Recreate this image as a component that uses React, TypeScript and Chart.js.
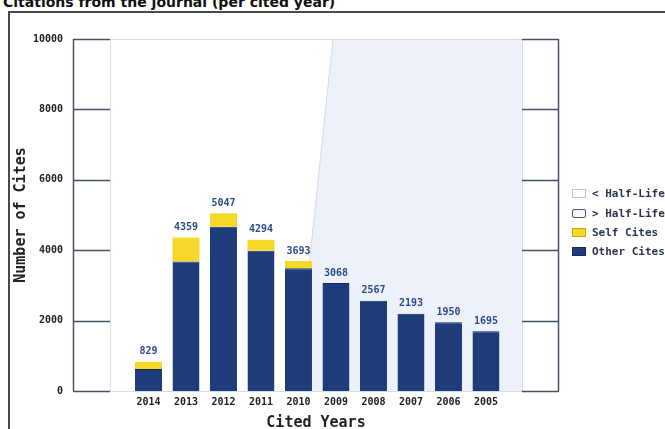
import React, { useEffect, useRef } from "react";
import { Chart, registerables } from "chart.js";

Chart.register(...registerables);

const years = ["2014", "2013", "2012", "2011", "2010", "2009", "2008", "2007", "2006", "2005"];
const otherCites = [625, 3680, 4668, 3986, 3486, 3068, 2567, 2193, 1950, 1695];
const selfCites = [204, 679, 379, 308, 207, 0, 0, 0, 0, 0];
const totalCites = [829, 4359, 5047, 4294, 3693, 3068, 2567, 2193, 1950, 1695];
const yTicks = [0, 2000, 4000, 6000, 8000, 10000];
const legendLabels = ["< Half-Life", "> Half-Life", "Self Cites", "Other Cites"];
// half-life boundary in category units (bottom edge, top edge)
const halfLifeBottom = 3.93;
const halfLifeTop = 4.92;

const NAVY = "#1f3c7a";
const YELLOW = "#f6d928";
const MONO = "'DejaVu Sans Mono', monospace";

const panelPlugin = {
  id: "panels",
  beforeDatasetsDraw(chart: any) {
    const { ctx, chartArea, scales } = chart;
    const x = scales.x;
    const y = scales.y;
    const leftInner = x.getPixelForValue(-1.027);
    const rightInner = x.getPixelForValue(9.96);
    const yTop = y.getPixelForValue(10000);
    const yBot = y.getPixelForValue(0);
    ctx.save();
    // half-life shade
    ctx.fillStyle = "#edf2fa";
    ctx.beginPath();
    ctx.moveTo(x.getPixelForValue(halfLifeBottom), yBot);
    ctx.lineTo(x.getPixelForValue(halfLifeTop), yTop);
    ctx.lineTo(rightInner, yTop);
    ctx.lineTo(rightInner, yBot);
    ctx.closePath();
    ctx.fill();
    ctx.strokeStyle = "#d3dbe8";
    ctx.lineWidth = 1;
    ctx.beginPath();
    ctx.moveTo(x.getPixelForValue(halfLifeBottom), yBot);
    ctx.lineTo(x.getPixelForValue(halfLifeTop), yTop);
    ctx.stroke();
    // light inner lines
    ctx.strokeStyle = "#d6dce6";
    ctx.beginPath();
    ctx.moveTo(leftInner + 0.5, yTop);
    ctx.lineTo(leftInner + 0.5, yBot);
    ctx.moveTo(rightInner + 0.5, yTop);
    ctx.lineTo(rightInner + 0.5, yBot);
    ctx.moveTo(leftInner, Math.round(yTop) + 0.5);
    ctx.lineTo(rightInner, Math.round(yTop) + 0.5);
    ctx.moveTo(leftInner, Math.round(yBot) + 0.5);
    ctx.lineTo(rightInner, Math.round(yBot) + 0.5);
    ctx.stroke();
    // panel gridlines
    ctx.strokeStyle = "#46536a";
    ctx.lineWidth = 1.5;
    ctx.beginPath();
    for (const t of yTicks) {
      const py = Math.round(y.getPixelForValue(t)) + 0.5;
      ctx.moveTo(chartArea.left, py);
      ctx.lineTo(leftInner, py);
      ctx.moveTo(rightInner, py);
      ctx.lineTo(chartArea.right, py);
    }
    ctx.moveTo(chartArea.left + 0.5, yTop);
    ctx.lineTo(chartArea.left + 0.5, yBot);
    ctx.moveTo(chartArea.right - 0.5, yTop);
    ctx.lineTo(chartArea.right - 0.5, yBot);
    ctx.stroke();
    ctx.restore();
  },
  afterDatasetsDraw(chart: any) {
    const { ctx, scales } = chart;
    ctx.save();
    ctx.fillStyle = "#2b4a8c";
    ctx.font = `bold 10px ${MONO}`;
    ctx.textAlign = "center";
    ctx.textBaseline = "middle";
    totalCites.forEach((v, i) => {
      ctx.fillText(String(v), scales.x.getPixelForValue(i), scales.y.getPixelForValue(v) - 10);
    });
    ctx.restore();
  },
};

function App() {
  const ref = useRef<HTMLCanvasElement>(null);
  useEffect(() => {
    if (!ref.current) return;
    const chart = new Chart(ref.current, {
      type: "bar",
      data: {
        datasets: [
          {
            label: "Other Cites",
            data: otherCites.map((v, i) => ({ x: i, y: v })),
            backgroundColor: NAVY,
            borderColor: "#142a5c",
            borderWidth: { top: 1, left: 0, right: 0, bottom: 0 },
            borderSkipped: false,
            stack: "s",
          },
          {
            label: "Self Cites",
            data: selfCites.map((v, i) => ({ x: i, y: v })),
            backgroundColor: YELLOW,
            borderWidth: 0,
            stack: "s",
          },
        ],
      },
      options: {
        animation: false,
        responsive: false,
        events: [],
        layout: { padding: { top: 39, right: 106, bottom: 0, left: 0 } },
        datasets: { bar: { barPercentage: 0.9, categoryPercentage: 0.8 } },
        plugins: { legend: { display: false }, tooltip: { enabled: false }, title: { display: false } },
        scales: {
          x: {
            type: "linear",
            min: -2.013,
            max: 10.947,
            offset: false,
            stacked: true,
            grid: { display: false, drawTicks: false, offset: false },
            border: { display: false },
            afterBuildTicks: (axis: any) => {
              axis.ticks = years.map((_, i) => ({ value: i }));
            },
            afterFit: (axis: any) => {
              axis.height = 38;
            },
            ticks: {
              autoSkip: false,
              maxRotation: 0,
              padding: 5,
              color: "#222",
              font: { family: MONO, size: 10, weight: "bold" },
              callback: (v: any) => years[v] ?? "",
            },
            title: {
              display: true,
              text: "Cited Years",
              color: "#222",
              padding: 0,
              font: { family: MONO, size: 15, weight: "bold", lineHeight: 0.8 },
            },
          },
          y: {
            type: "linear",
            min: 0,
            max: 10000,
            stacked: true,
            grid: { display: false, drawTicks: false },
            border: { display: false },
            afterBuildTicks: (axis: any) => {
              axis.ticks = yTicks.map((v) => ({ value: v }));
            },
            afterFit: (axis: any) => {
              axis.width = 73;
            },
            ticks: {
              padding: 10,
              color: "#222",
              font: { family: MONO, size: 10, weight: "bold" },
              callback: (v: any) => String(v),
            },
            title: {
              display: true,
              text: "Number of Cites",
              color: "#222",
              padding: { top: 12, bottom: 0 },
              font: { family: MONO, size: 15, weight: "bold", lineHeight: 1.2 },
            },
          },
        },
      },
      plugins: [panelPlugin],
    } as any);
    return () => chart.destroy();
  }, []);

  const boxStyles: React.CSSProperties[] = [
    { background: "#ffffff", border: "1px solid #b9c1cd" },
    { background: "#f4f7fb", border: "1px solid #4a5568", borderRadius: 2 },
    { background: YELLOW, border: "1px solid #c9a800" },
    { background: NAVY, border: "1px solid #142a5c" },
  ];
  const legendY = [193, 213, 232, 251];

  return (
    <div style={{ position: "absolute", left: 0, top: 0, width: 665, height: 429, overflow: "hidden", background: "#fff" }}>
      <div
        style={{
          position: "absolute",
          left: 8,
          top: 11,
          width: 700,
          height: 440,
          borderTop: "2px solid #4a4a4a",
          borderLeft: "2px solid #4a4a4a",
          boxSizing: "border-box",
        }}
      />
      <div
        style={{
          position: "absolute",
          left: 3,
          top: -6,
          font: "bold 14px 'DejaVu Sans', sans-serif",
          color: "#111",
          whiteSpace: "nowrap",
          lineHeight: "17px",
        }}
      >
        Citations from the journal (per cited year)
      </div>
      <canvas ref={ref} width={665} height={429} style={{ position: "absolute", left: 0, top: 0, width: 665, height: 429 }} />
      {legendLabels.map((l, i) => (
        <div key={l} style={{ position: "absolute", left: 572, top: legendY[i] - 6, height: 12, display: "flex", alignItems: "center", whiteSpace: "nowrap" }}>
          <div style={{ width: 14, height: 9, boxSizing: "border-box", ...boxStyles[i] }} />
          <span style={{ marginLeft: 6, font: `bold 11px ${MONO}`, color: "#2a3550" }}>{l}</span>
        </div>
      ))}
    </div>
  );
}

export default App;
